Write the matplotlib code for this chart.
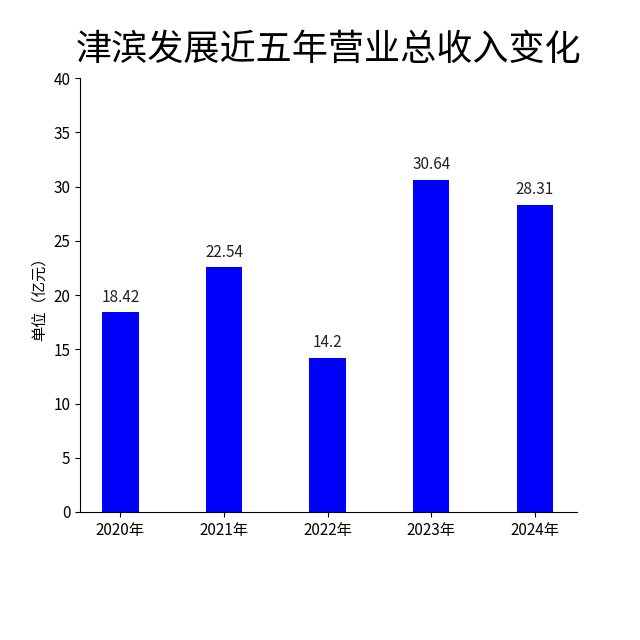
import matplotlib
matplotlib.use("Agg")
import matplotlib.pyplot as plt

plt.rcParams['font.family'] = ['Noto Sans CJK SC', 'DejaVu Sans']

years = ["2020年", "2021年", "2022年", "2023年", "2024年"]
revenue = [18.42, 22.54, 14.2, 30.64, 28.31]
value_labels = ["18.42", "22.54", "14.2", "30.64", "28.31"]
title = "津滨发展近五年营业总收入变化"
ylabel = "单位（亿元）"

fig = plt.figure(figsize=(6.4, 6.4), dpi=100)
ax = fig.add_axes([0.125, 0.2, 0.777, 0.678])
x = list(range(len(years)))
bars = ax.bar(x, revenue, width=0.35, color="#0000ff")
for xi, v, lab in zip(x, revenue, value_labels):
    ax.text(xi, v + 0.6, lab, ha="center", va="bottom", fontsize=11, color="#222222")
ax.set_xticks(x)
ax.set_xticklabels(years, fontsize=11)
ax.set_xlim(-0.39, 4.41)
ax.set_ylim(0, 40)
ax.set_yticks(range(0, 41, 5))
ax.tick_params(axis='y', labelsize=11)
ax.set_ylabel(ylabel, fontsize=11)
ax.spines['top'].set_visible(False)
ax.spines['right'].set_visible(False)
fig.text(0.513, 0.922, title, fontsize=26, ha="center", va="center")
fig.savefig("out.png", dpi=100, facecolor="white")
